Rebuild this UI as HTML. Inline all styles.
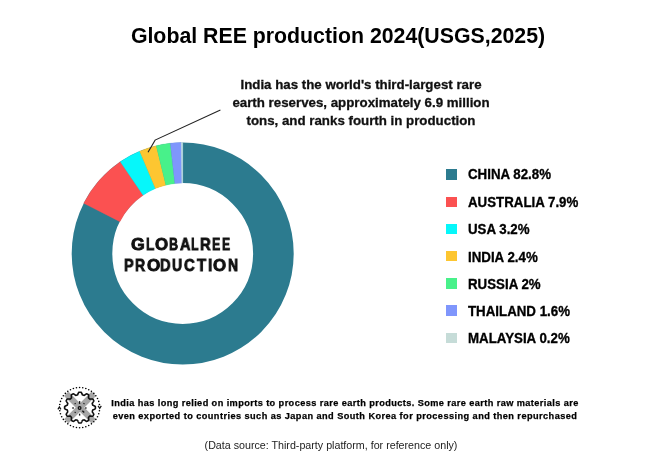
<!DOCTYPE html>
<html><head><meta charset="utf-8">
<style>
html,body{margin:0;padding:0;background:#fff;}
.t{will-change:transform;}
body{width:655px;height:464px;position:relative;overflow:hidden;font-family:"Liberation Sans",Arial,sans-serif;color:#111;}
.t{position:absolute;white-space:nowrap;line-height:1;}
#title{left:10.85px;width:654px;text-align:center;top:26px;font-size:21.3px;font-weight:bold;color:#000;}
.ann{left:161px;width:400px;text-align:center;font-size:13.3px;font-weight:bold;color:#111;-webkit-text-stroke:0.3px #111;}
.lg{left:467.6px;font-size:13.3px;font-weight:bold;color:#000;transform:scaleY(1.07);transform-origin:0 12px;-webkit-text-stroke:0.3px #000;}
.sq{position:absolute;left:446.2px;width:10.4px;height:10.4px;}
.ctw{position:absolute;white-space:nowrap;line-height:1;font-size:17px;font-weight:bold;color:#111;-webkit-text-stroke:0.9px #111;}
.ctw span{display:inline-block;transform-origin:0 0;will-change:transform;}
.bt{left:44.5px;width:600px;text-align:center;font-size:9.2px;font-weight:bold;color:#000;letter-spacing:0.45px;-webkit-text-stroke:0.25px #000;}
#src{left:131.1px;width:400px;text-align:center;font-size:10.7px;color:#222;top:440px;}
svg{position:absolute;left:0;top:0;}
</style></head><body>
<svg width="655" height="464" viewBox="0 0 655 464">
<circle cx="182.7" cy="253.5" r="90.7" fill="none" stroke="#2c7b8f" stroke-width="40.6"/>
<path fill="#fb5151" stroke="#fb5151" stroke-width="0.3" d="M83.71 203.28A111 111 0 0 1 120.31 161.69L143.13 195.27A70.4 70.4 0 0 0 119.92 221.65Z"/>
<path fill="#06f7fa" stroke="#06f7fa" stroke-width="0.3" d="M120.31 161.69A111 111 0 0 1 139.69 151.17L155.42 188.60A70.4 70.4 0 0 0 143.13 195.27Z"/>
<path fill="#fdc631" stroke="#fdc631" stroke-width="0.3" d="M139.69 151.17A111 111 0 0 1 156.22 145.70L165.91 185.13A70.4 70.4 0 0 0 155.42 188.60Z"/>
<path fill="#48f18a" stroke="#48f18a" stroke-width="0.3" d="M156.22 145.70A111 111 0 0 1 170.33 143.19L174.85 183.54A70.4 70.4 0 0 0 165.91 185.13Z"/>
<path fill="#7f96fc" stroke="#7f96fc" stroke-width="0.3" d="M170.33 143.19A111 111 0 0 1 181.25 142.51L181.78 183.11A70.4 70.4 0 0 0 174.85 183.54Z"/>
<path fill="#d3eaee" stroke="#d3eaee" stroke-width="0.3" d="M181.25 142.51A111 111 0 0 1 182.70 142.50L182.70 183.10A70.4 70.4 0 0 0 181.78 183.11Z"/>
<polyline points="148,152.2 155.1,140.1 220.4,109.9" fill="none" stroke="#222" stroke-width="1.1"/>
<g id="icon">
<path d="M66.21 393.81L93.79 421.39M93.79 393.81L66.21 421.39" stroke="#a6a6a6" stroke-width="6.2"/>
<circle cx="79.60" cy="387.50" r="0.8" fill="#000"/>
<circle cx="82.74" cy="387.75" r="0.8" fill="#000"/>
<circle cx="85.81" cy="388.48" r="0.8" fill="#000"/>
<circle cx="88.73" cy="389.69" r="0.8" fill="#000"/>
<circle cx="91.41" cy="391.34" r="0.8" fill="#000"/>
<circle cx="93.81" cy="393.39" r="0.8" fill="#000"/>
<circle cx="95.86" cy="395.79" r="0.8" fill="#000"/>
<circle cx="97.51" cy="398.47" r="0.8" fill="#000"/>
<circle cx="98.72" cy="401.39" r="0.8" fill="#000"/>
<circle cx="99.45" cy="404.46" r="0.8" fill="#000"/>
<circle cx="99.45" cy="410.74" r="0.8" fill="#000"/>
<circle cx="98.72" cy="413.81" r="0.8" fill="#000"/>
<circle cx="97.51" cy="416.73" r="0.8" fill="#000"/>
<circle cx="95.86" cy="419.41" r="0.8" fill="#000"/>
<circle cx="93.81" cy="421.81" r="0.8" fill="#000"/>
<circle cx="91.41" cy="423.86" r="0.8" fill="#000"/>
<circle cx="88.73" cy="425.51" r="0.8" fill="#000"/>
<circle cx="85.81" cy="426.72" r="0.8" fill="#000"/>
<circle cx="82.74" cy="427.45" r="0.8" fill="#000"/>
<circle cx="79.60" cy="427.70" r="0.8" fill="#000"/>
<circle cx="76.46" cy="427.45" r="0.8" fill="#000"/>
<circle cx="73.39" cy="426.72" r="0.8" fill="#000"/>
<circle cx="70.47" cy="425.51" r="0.8" fill="#000"/>
<circle cx="67.79" cy="423.86" r="0.8" fill="#000"/>
<circle cx="65.39" cy="421.81" r="0.8" fill="#000"/>
<circle cx="63.34" cy="419.41" r="0.8" fill="#000"/>
<circle cx="61.69" cy="416.73" r="0.8" fill="#000"/>
<circle cx="60.48" cy="413.81" r="0.8" fill="#000"/>
<circle cx="59.75" cy="410.74" r="0.8" fill="#000"/>
<circle cx="59.75" cy="404.46" r="0.8" fill="#000"/>
<circle cx="60.48" cy="401.39" r="0.8" fill="#000"/>
<circle cx="61.69" cy="398.47" r="0.8" fill="#000"/>
<circle cx="63.34" cy="395.79" r="0.8" fill="#000"/>
<circle cx="65.39" cy="393.39" r="0.8" fill="#000"/>
<circle cx="67.79" cy="391.34" r="0.8" fill="#000"/>
<circle cx="70.47" cy="389.69" r="0.8" fill="#000"/>
<circle cx="73.39" cy="388.48" r="0.8" fill="#000"/>
<circle cx="76.46" cy="387.75" r="0.8" fill="#000"/>
<path d="M80.00,392.20 L80.16,392.20 L80.32,392.20 L80.48,392.21 L80.64,392.21 L80.81,392.22 L80.97,392.23 L81.12,392.30 L81.27,392.50 L81.41,392.72 L81.54,392.95 L81.67,393.19 L81.79,393.44 L81.90,393.70 L82.02,393.95 L82.12,394.20 L82.23,394.44 L82.33,394.66 L82.43,394.87 L82.55,394.95 L82.68,394.98 L82.81,395.01 L82.95,395.04 L83.08,395.07 L83.21,395.11 L83.34,395.14 L83.47,395.18 L83.60,395.21 L83.73,395.25 L83.86,395.29 L83.99,395.33 L84.11,395.37 L84.26,395.37 L84.45,395.23 L84.65,395.09 L84.86,394.93 L85.08,394.77 L85.30,394.61 L85.53,394.45 L85.76,394.29 L85.99,394.14 L86.22,394.01 L86.45,393.89 L86.68,393.78 L86.85,393.81 L86.99,393.88 L87.13,393.95 L87.28,394.03 L87.42,394.10 L87.56,394.18 L87.70,394.26 L87.84,394.34 L87.98,394.43 L88.12,394.51 L88.25,394.60 L88.39,394.68 L88.52,394.77 L88.63,394.91 L88.65,395.16 L88.66,395.42 L88.66,395.68 L88.65,395.96 L88.63,396.24 L88.60,396.51 L88.57,396.79 L88.54,397.05 L88.51,397.31 L88.48,397.56 L88.46,397.79 L88.53,397.92 L88.63,398.01 L88.73,398.10 L88.83,398.20 L88.93,398.29 L89.03,398.38 L89.12,398.48 L89.22,398.57 L89.31,398.67 L89.40,398.77 L89.50,398.87 L89.59,398.97 L89.68,399.07 L89.81,399.14 L90.04,399.12 L90.29,399.09 L90.55,399.06 L90.81,399.03 L91.09,399.00 L91.36,398.97 L91.64,398.95 L91.92,398.94 L92.18,398.94 L92.44,398.95 L92.69,398.97 L92.83,399.08 L92.92,399.21 L93.00,399.35 L93.09,399.48 L93.17,399.62 L93.26,399.76 L93.34,399.90 L93.42,400.04 L93.50,400.18 L93.57,400.32 L93.65,400.47 L93.72,400.61 L93.79,400.75 L93.82,400.92 L93.71,401.15 L93.59,401.38 L93.46,401.61 L93.31,401.84 L93.15,402.07 L92.99,402.30 L92.83,402.52 L92.67,402.74 L92.51,402.95 L92.37,403.15 L92.23,403.34 L92.23,403.49 L92.27,403.61 L92.31,403.74 L92.35,403.87 L92.39,404.00 L92.42,404.13 L92.46,404.26 L92.49,404.39 L92.53,404.52 L92.56,404.65 L92.59,404.79 L92.62,404.92 L92.65,405.05 L92.73,405.17 L92.94,405.27 L93.16,405.37 L93.40,405.48 L93.65,405.58 L93.90,405.70 L94.16,405.81 L94.41,405.93 L94.65,406.06 L94.88,406.19 L95.10,406.33 L95.30,406.48 L95.37,406.63 L95.38,406.79 L95.39,406.96 L95.39,407.12 L95.40,407.28 L95.40,407.44 L95.40,407.60 L95.40,407.76 L95.40,407.92 L95.39,408.08 L95.39,408.24 L95.38,408.41 L95.37,408.57 L95.30,408.72 L95.10,408.87 L94.88,409.01 L94.65,409.14 L94.41,409.27 L94.16,409.39 L93.90,409.50 L93.65,409.62 L93.40,409.72 L93.16,409.83 L92.94,409.93 L92.73,410.03 L92.65,410.15 L92.62,410.28 L92.59,410.41 L92.56,410.55 L92.53,410.68 L92.49,410.81 L92.46,410.94 L92.42,411.07 L92.39,411.20 L92.35,411.33 L92.31,411.46 L92.27,411.59 L92.23,411.71 L92.23,411.86 L92.37,412.05 L92.51,412.25 L92.67,412.46 L92.83,412.68 L92.99,412.90 L93.15,413.13 L93.31,413.36 L93.46,413.59 L93.59,413.82 L93.71,414.05 L93.82,414.28 L93.79,414.45 L93.72,414.59 L93.65,414.73 L93.57,414.88 L93.50,415.02 L93.42,415.16 L93.34,415.30 L93.26,415.44 L93.17,415.58 L93.09,415.72 L93.00,415.85 L92.92,415.99 L92.83,416.12 L92.69,416.23 L92.44,416.25 L92.18,416.26 L91.92,416.26 L91.64,416.25 L91.36,416.23 L91.09,416.20 L90.81,416.17 L90.55,416.14 L90.29,416.11 L90.04,416.08 L89.81,416.06 L89.68,416.13 L89.59,416.23 L89.50,416.33 L89.40,416.43 L89.31,416.53 L89.22,416.63 L89.12,416.72 L89.03,416.82 L88.93,416.91 L88.83,417.00 L88.73,417.10 L88.63,417.19 L88.53,417.28 L88.46,417.41 L88.48,417.64 L88.51,417.89 L88.54,418.15 L88.57,418.41 L88.60,418.69 L88.63,418.96 L88.65,419.24 L88.66,419.52 L88.66,419.78 L88.65,420.04 L88.63,420.29 L88.52,420.43 L88.39,420.52 L88.25,420.60 L88.12,420.69 L87.98,420.77 L87.84,420.86 L87.70,420.94 L87.56,421.02 L87.42,421.10 L87.28,421.17 L87.13,421.25 L86.99,421.32 L86.85,421.39 L86.68,421.42 L86.45,421.31 L86.22,421.19 L85.99,421.06 L85.76,420.91 L85.53,420.75 L85.30,420.59 L85.08,420.43 L84.86,420.27 L84.65,420.11 L84.45,419.97 L84.26,419.83 L84.11,419.83 L83.99,419.87 L83.86,419.91 L83.73,419.95 L83.60,419.99 L83.47,420.02 L83.34,420.06 L83.21,420.09 L83.08,420.13 L82.95,420.16 L82.81,420.19 L82.68,420.22 L82.55,420.25 L82.43,420.33 L82.33,420.54 L82.23,420.76 L82.12,421.00 L82.02,421.25 L81.90,421.50 L81.79,421.76 L81.67,422.01 L81.54,422.25 L81.41,422.48 L81.27,422.70 L81.12,422.90 L80.97,422.97 L80.81,422.98 L80.64,422.99 L80.48,422.99 L80.32,423.00 L80.16,423.00 L80.00,423.00 L79.84,423.00 L79.68,423.00 L79.52,422.99 L79.36,422.99 L79.19,422.98 L79.03,422.97 L78.88,422.90 L78.73,422.70 L78.59,422.48 L78.46,422.25 L78.33,422.01 L78.21,421.76 L78.10,421.50 L77.98,421.25 L77.88,421.00 L77.77,420.76 L77.67,420.54 L77.57,420.33 L77.45,420.25 L77.32,420.22 L77.19,420.19 L77.05,420.16 L76.92,420.13 L76.79,420.09 L76.66,420.06 L76.53,420.02 L76.40,419.99 L76.27,419.95 L76.14,419.91 L76.01,419.87 L75.89,419.83 L75.74,419.83 L75.55,419.97 L75.35,420.11 L75.14,420.27 L74.92,420.43 L74.70,420.59 L74.47,420.75 L74.24,420.91 L74.01,421.06 L73.78,421.19 L73.55,421.31 L73.32,421.42 L73.15,421.39 L73.01,421.32 L72.87,421.25 L72.72,421.17 L72.58,421.10 L72.44,421.02 L72.30,420.94 L72.16,420.86 L72.02,420.77 L71.88,420.69 L71.75,420.60 L71.61,420.52 L71.48,420.43 L71.37,420.29 L71.35,420.04 L71.34,419.78 L71.34,419.52 L71.35,419.24 L71.37,418.96 L71.40,418.69 L71.43,418.41 L71.46,418.15 L71.49,417.89 L71.52,417.64 L71.54,417.41 L71.47,417.28 L71.37,417.19 L71.27,417.10 L71.17,417.00 L71.07,416.91 L70.97,416.82 L70.88,416.72 L70.78,416.63 L70.69,416.53 L70.60,416.43 L70.50,416.33 L70.41,416.23 L70.32,416.13 L70.19,416.06 L69.96,416.08 L69.71,416.11 L69.45,416.14 L69.19,416.17 L68.91,416.20 L68.64,416.23 L68.36,416.25 L68.08,416.26 L67.82,416.26 L67.56,416.25 L67.31,416.23 L67.17,416.12 L67.08,415.99 L67.00,415.85 L66.91,415.72 L66.83,415.58 L66.74,415.44 L66.66,415.30 L66.58,415.16 L66.50,415.02 L66.43,414.88 L66.35,414.73 L66.28,414.59 L66.21,414.45 L66.18,414.28 L66.29,414.05 L66.41,413.82 L66.54,413.59 L66.69,413.36 L66.85,413.13 L67.01,412.90 L67.17,412.68 L67.33,412.46 L67.49,412.25 L67.63,412.05 L67.77,411.86 L67.77,411.71 L67.73,411.59 L67.69,411.46 L67.65,411.33 L67.61,411.20 L67.58,411.07 L67.54,410.94 L67.51,410.81 L67.47,410.68 L67.44,410.55 L67.41,410.41 L67.38,410.28 L67.35,410.15 L67.27,410.03 L67.06,409.93 L66.84,409.83 L66.60,409.72 L66.35,409.62 L66.10,409.50 L65.84,409.39 L65.59,409.27 L65.35,409.14 L65.12,409.01 L64.90,408.87 L64.70,408.72 L64.63,408.57 L64.62,408.41 L64.61,408.24 L64.61,408.08 L64.60,407.92 L64.60,407.76 L64.60,407.60 L64.60,407.44 L64.60,407.28 L64.61,407.12 L64.61,406.96 L64.62,406.79 L64.63,406.63 L64.70,406.48 L64.90,406.33 L65.12,406.19 L65.35,406.06 L65.59,405.93 L65.84,405.81 L66.10,405.70 L66.35,405.58 L66.60,405.48 L66.84,405.37 L67.06,405.27 L67.27,405.17 L67.35,405.05 L67.38,404.92 L67.41,404.79 L67.44,404.65 L67.47,404.52 L67.51,404.39 L67.54,404.26 L67.58,404.13 L67.61,404.00 L67.65,403.87 L67.69,403.74 L67.73,403.61 L67.77,403.49 L67.77,403.34 L67.63,403.15 L67.49,402.95 L67.33,402.74 L67.17,402.52 L67.01,402.30 L66.85,402.07 L66.69,401.84 L66.54,401.61 L66.41,401.38 L66.29,401.15 L66.18,400.92 L66.21,400.75 L66.28,400.61 L66.35,400.47 L66.43,400.32 L66.50,400.18 L66.58,400.04 L66.66,399.90 L66.74,399.76 L66.83,399.62 L66.91,399.48 L67.00,399.35 L67.08,399.21 L67.17,399.08 L67.31,398.97 L67.56,398.95 L67.82,398.94 L68.08,398.94 L68.36,398.95 L68.64,398.97 L68.91,399.00 L69.19,399.03 L69.45,399.06 L69.71,399.09 L69.96,399.12 L70.19,399.14 L70.32,399.07 L70.41,398.97 L70.50,398.87 L70.60,398.77 L70.69,398.67 L70.78,398.57 L70.88,398.48 L70.97,398.38 L71.07,398.29 L71.17,398.20 L71.27,398.10 L71.37,398.01 L71.47,397.92 L71.54,397.79 L71.52,397.56 L71.49,397.31 L71.46,397.05 L71.43,396.79 L71.40,396.51 L71.37,396.24 L71.35,395.96 L71.34,395.68 L71.34,395.42 L71.35,395.16 L71.37,394.91 L71.48,394.77 L71.61,394.68 L71.75,394.60 L71.88,394.51 L72.02,394.43 L72.16,394.34 L72.30,394.26 L72.44,394.18 L72.58,394.10 L72.72,394.03 L72.87,393.95 L73.01,393.88 L73.15,393.81 L73.32,393.78 L73.55,393.89 L73.78,394.01 L74.01,394.14 L74.24,394.29 L74.47,394.45 L74.70,394.61 L74.92,394.77 L75.14,394.93 L75.35,395.09 L75.55,395.23 L75.74,395.37 L75.89,395.37 L76.01,395.33 L76.14,395.29 L76.27,395.25 L76.40,395.21 L76.53,395.18 L76.66,395.14 L76.79,395.11 L76.92,395.07 L77.05,395.04 L77.19,395.01 L77.32,394.98 L77.45,394.95 L77.57,394.87 L77.67,394.66 L77.77,394.44 L77.88,394.20 L77.98,393.95 L78.10,393.70 L78.21,393.44 L78.33,393.19 L78.46,392.95 L78.59,392.72 L78.73,392.50 L78.88,392.30 L79.03,392.23 L79.19,392.22 L79.36,392.21 L79.52,392.21 L79.68,392.20 L79.84,392.20 L80.00,392.20Z" fill="none" stroke="#111" stroke-width="1.6" stroke-linejoin="round"/>
<circle cx="79.6" cy="408.0" r="1.35" fill="none" stroke="#111" stroke-width="1.25"/>
<line x1="79.60" y1="403.90" x2="79.60" y2="401.10" stroke="#111" stroke-width="1.35"/>
<line x1="79.60" y1="413.70" x2="79.60" y2="415.60" stroke="#111" stroke-width="1.35"/>
<line x1="85.20" y1="408.00" x2="86.50" y2="408.00" stroke="#111" stroke-width="1.35"/>
<line x1="73.80" y1="408.00" x2="72.30" y2="408.00" stroke="#111" stroke-width="1.35"/>
<line x1="83.63" y1="403.97" x2="84.34" y2="403.26" stroke="#111" stroke-width="1.35"/>
<line x1="75.50" y1="403.90" x2="74.79" y2="403.19" stroke="#111" stroke-width="1.35"/>
<line x1="75.50" y1="412.10" x2="74.79" y2="412.81" stroke="#111" stroke-width="1.35"/>
<line x1="82.36" y1="410.76" x2="84.20" y2="412.60" stroke="#111" stroke-width="1.35"/>
<path d="M57.9 409.4 L59.4 406.9 L60.9 409.4" fill="none" stroke="#111" stroke-width="1.2"/>
<path d="M98.1 405.9 L99.7 408.4 L101.3 405.9" fill="none" stroke="#111" stroke-width="1.2"/>
</g>
</svg>
<div class="t" id="title">Global REE production 2024(USGS,2025)</div>
<div class="t ann" style="top:77.5px">India has the world's third-largest rare</div>
<div class="t ann" style="top:95.5px">earth reserves, approximately 6.9 million</div>
<div class="t ann" style="top:113.5px">tons, and ranks fourth in production</div>

<div class="sq" style="top:169.4px;background:#2c7b8f"></div>
<div class="sq" style="top:196.6px;background:#fb5151"></div>
<div class="sq" style="top:223.8px;background:#06f7fa"></div>
<div class="sq" style="top:251.0px;background:#fdc631"></div>
<div class="sq" style="top:278.2px;background:#48f18a"></div>
<div class="sq" style="top:305.4px;background:#7f96fc"></div>
<div class="sq" style="top:332.6px;background:#c6dcd8"></div>
<div class="t lg" style="top:167.6px">CHINA 82.8%</div>
<div class="t lg" style="top:195.5px">AUSTRALIA 7.9%</div>
<div class="t lg" style="top:222.6px">USA 3.2%</div>
<div class="t lg" style="top:250.6px">INDIA 2.4%</div>
<div class="t lg" style="top:277.8px">RUSSIA 2%</div>
<div class="t lg" style="top:305.1px">THAILAND 1.6%</div>
<div class="t lg" style="top:331.5px">MALAYSIA 0.2%</div>

<div class="ctw" style="left:131.07px;top:235.8px"><span style="width:14.47px;transform:scaleX(1.039)">G</span><span style="width:9.04px;transform:scaleX(0.783)">L</span><span style="width:14.10px;transform:scaleX(0.988)">O</span><span style="width:10.87px;transform:scaleX(0.735)">B</span><span style="width:11.73px;transform:scaleX(0.850)">A</span><span style="width:8.90px;transform:scaleX(0.731)">L</span><span style="width:12.30px;transform:scaleX(0.873)">R</span><span style="width:9.52px;transform:scaleX(0.731)">E</span><span style="width:14.00px;transform:scaleX(0.702)">E</span></div>
<div class="ctw" style="left:123.79px;top:257.3px"><span style="width:11.33px;transform:scaleX(0.854)">P</span><span style="width:11.56px;transform:scaleX(0.821)">R</span><span style="width:13.61px;transform:scaleX(1.004)">O</span><span style="width:11.92px;transform:scaleX(0.859)">D</span><span style="width:11.81px;transform:scaleX(0.820)">U</span><span style="width:12.80px;transform:scaleX(0.872)">C</span><span style="width:10.84px;transform:scaleX(0.870)">T</span><span style="width:5.82px;transform:scaleX(0.907)">I</span><span style="width:14.35px;transform:scaleX(0.988)">O</span><span style="width:14.00px;transform:scaleX(0.810)">N</span></div>

<div class="t bt" style="top:398.5px;letter-spacing:0.41px">India has long relied on imports to process rare earth products. Some rare earth raw materials are</div>
<div class="t bt" style="top:411.8px;letter-spacing:0.44px">even exported to countries such as Japan and South Korea for processing and then repurchased</div>
<div class="t" id="src">(Data source: Third-party platform, for reference only)</div>
</body></html>
